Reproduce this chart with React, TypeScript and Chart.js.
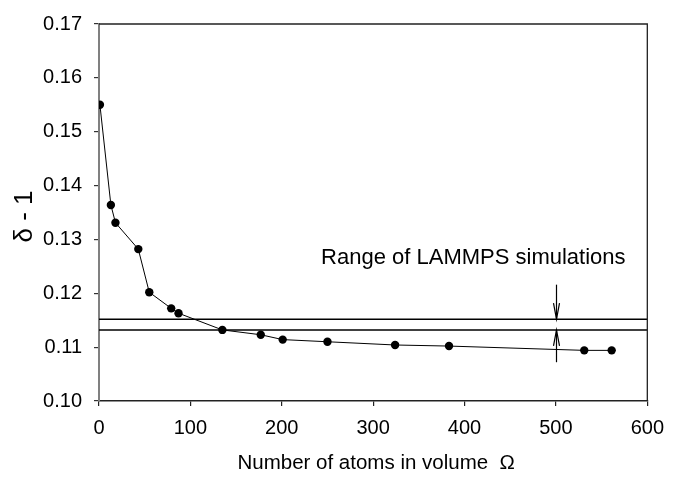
import React, { useEffect, useRef } from "react";
import { Chart, registerables } from "chart.js";

Chart.register(...registerables);

// Number of atoms in the averaging volume and the corresponding δ - 1
const atomCounts = [1, 13, 18, 43, 55, 79, 87, 135, 177, 201, 250, 324, 383, 531, 561];
const deltaMinusOne = [
  0.155, 0.1364, 0.1331, 0.1282, 0.1202, 0.1172, 0.1163, 0.1132, 0.1123, 0.1114, 0.111, 0.1104,
  0.1102, 0.1094, 0.1094,
];

// Upper and lower bounds of the LAMMPS simulation range
const rangeBounds = [0.1152, 0.1132];
const rangeSpanX = [0, 600];

// Arrows marking the range: x position and the far end of each arrow shaft
const arrowX = 500;
const arrowTails = [0.1216, 0.1072];

const rangeLabel = "Range of LAMMPS simulations";
const rangeLabelAt = { x: 243, y: 0.1255 };

const xTicks = [0, 100, 200, 300, 400, 500, 600];
const yTicks = [0.1, 0.11, 0.12, 0.13, 0.14, 0.15, 0.16, 0.17];

const xTitle = "Number of atoms in volume  Ω";
const yTitle = "δ - 1";

const FONT = "'Liberation Sans', Arial, Helvetica, sans-serif";

const annotations = {
  id: "rangeAnnotations",
  afterDatasetsDraw(chart: any) {
    const { ctx, chartArea, scales } = chart;
    const xs = scales.x;
    const ys = scales.y;
    ctx.save();

    // frame on top and right
    ctx.strokeStyle = "#222";
    ctx.lineWidth = 1.3;
    ctx.beginPath();
    ctx.moveTo(chartArea.left, chartArea.top);
    ctx.lineTo(chartArea.right, chartArea.top);
    ctx.lineTo(chartArea.right, chartArea.bottom);
    ctx.stroke();

    // arrows pointing at each bound
    const ax = Math.round(xs.getPixelForValue(arrowX)) + 0.5;
    ctx.strokeStyle = "#000";
    ctx.lineWidth = 1.2;
    rangeBounds.forEach((b, i) => {
      const tip = ys.getPixelForValue(b);
      const tail = ys.getPixelForValue(arrowTails[i]);
      const dir = tail < tip ? -1 : 1;
      ctx.beginPath();
      ctx.moveTo(ax, tail);
      ctx.lineTo(ax, tip);
      ctx.stroke();
      ctx.beginPath();
      ctx.moveTo(ax - 3, tip + dir * 16);
      ctx.lineTo(ax, tip);
      ctx.lineTo(ax + 3, tip + dir * 16);
      ctx.stroke();
    });

    // range label
    ctx.fillStyle = "#000";
    ctx.font = `22px ${FONT}`;
    ctx.textAlign = "left";
    ctx.textBaseline = "alphabetic";
    ctx.fillText(rangeLabel, xs.getPixelForValue(rangeLabelAt.x), ys.getPixelForValue(rangeLabelAt.y));

    // axis titles
    ctx.font = `20.5px ${FONT}`;
    ctx.textAlign = "center";
    ctx.fillText(xTitle, (chartArea.left + chartArea.right) / 2 + 3, 469);

    ctx.translate(32, (chartArea.top + chartArea.bottom) / 2 + 4);
    ctx.rotate(-Math.PI / 2);
    ctx.font = `26px ${FONT}`;
    ctx.fillText(yTitle, 0, 0);
    ctx.restore();
  },
};

export default function App() {
  const ref = useRef<HTMLCanvasElement | null>(null);

  useEffect(() => {
    if (!ref.current) return;
    const chart = new Chart(ref.current, {
      type: "scatter",
      data: {
        datasets: [
          {
            data: atomCounts.map((x, i) => ({ x, y: deltaMinusOne[i] })),
            showLine: true,
            borderColor: "#000",
            borderWidth: 1,
            backgroundColor: "#000",
            pointRadius: 4.2,
            pointBorderWidth: 0,
          },
          ...rangeBounds.map((b) => ({
            data: rangeSpanX.map((x) => ({ x, y: b })),
            showLine: true,
            borderColor: "#000",
            borderWidth: 1.5,
            pointRadius: 0,
          })),
        ],
      },
      plugins: [annotations],
      options: {
        responsive: false,
        animation: false,
        devicePixelRatio: 1,
        layout: { padding: { top: 12, right: 21, left: 0, bottom: 0 } },
        plugins: { legend: { display: false }, tooltip: { enabled: false } },
        scales: {
          x: {
            type: "linear",
            min: 0,
            max: 600,
            afterBuildTicks: (s: any) => {
              s.ticks = xTicks.map((v) => ({ value: v }));
            },
            ticks: {
              color: "#000",
              font: { family: FONT, size: 20 },
              padding: 10,
              maxRotation: 0,
              callback: (v: any) => String(v),
            },
            grid: { drawOnChartArea: false, tickLength: 5, color: "#222", lineWidth: 1.2 },
            border: { color: "#222", width: 1.5 },
            afterFit: (s: any) => {
              s.height = 77;
            },
          },
          y: {
            type: "linear",
            min: 0.1,
            max: 0.17,
            afterBuildTicks: (s: any) => {
              s.ticks = yTicks.map((v) => ({ value: v }));
            },
            ticks: {
              color: "#000",
              font: { family: FONT, size: 20 },
              padding: 12,
              callback: (v: any) => Number(v).toFixed(2),
            },
            grid: { drawOnChartArea: false, tickLength: 5, color: "#333", lineWidth: 1.2 },
            border: { color: "#808080", width: 2 },
            afterFit: (s: any) => {
              s.width = 99;
            },
          },
        },
      },
    });
    return () => chart.destroy();
  }, []);

  return (
    <div style={{ position: "absolute", left: 0, top: 0, width: 674, height: 478, background: "#fff" }}>
      <canvas ref={ref} width={674} height={478} />
    </div>
  );
}
